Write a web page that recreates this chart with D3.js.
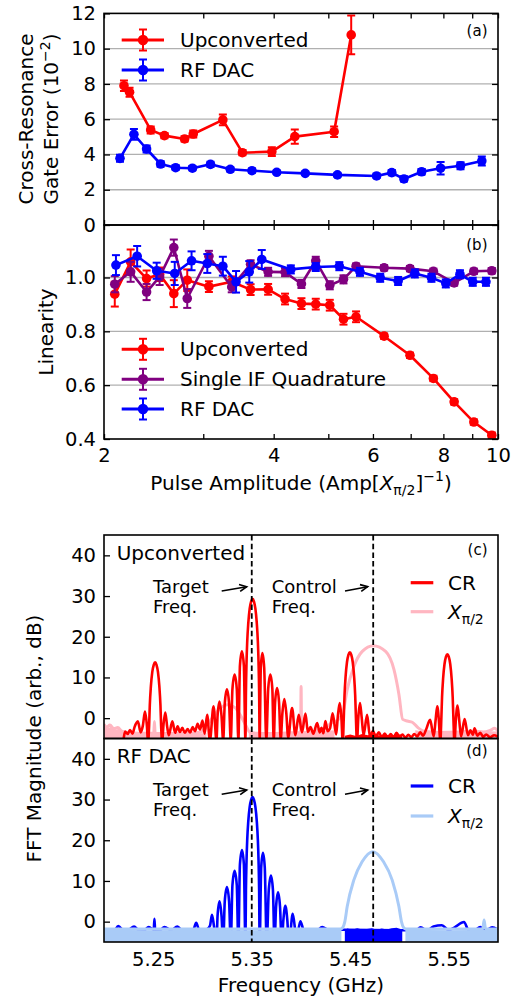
<!DOCTYPE html>
<html><head><meta charset="utf-8">
<script src="https://cdn.jsdelivr.net/npm/d3@7"></script>
<style>body{margin:0;background:#fff}svg{display:block}text{font-family:"DejaVu Sans",sans-serif;fill:#000}</style>
</head><body><svg id="c" width="516" height="1001"></svg>
<script>
// ---------- DATA ----------
// (a) gate error vs pulse amplitude
const errAmpUp = [2.17,2.22,2.42,2.56,2.78,2.88,3.25,3.52,3.97,4.36,5.12,5.49];
const errUp    = [7.9,7.53,5.39,5.07,4.88,5.16,5.96,4.1,4.16,5.01,5.29,10.78];
const errUpE   = [0.3,0.25,0.2,0.15,0.15,0.2,0.3,0.15,0.25,0.4,0.3,1.1];
const errAmpRf = [2.135,2.26,2.38,2.52,2.68,2.87,3.09,3.35,3.66,4.05,4.55,5.19,6.09,6.48,6.81,7.32,7.91,8.58,9.36];
const errRf    = [3.78,5.14,4.31,3.46,3.25,3.22,3.44,3.16,3.08,2.99,2.93,2.84,2.78,2.97,2.61,3.02,3.22,3.36,3.63];
const errRfE   = [0.2,0.3,0.2,0.15,0.12,0.12,0.15,0.12,0.12,0.1,0.1,0.1,0.12,0.15,0.15,0.15,0.35,0.2,0.25];
// (b) linearity
const linAmpUp = [2.09,2.23,2.38,2.51,2.66,2.81,3.07,3.37,3.64,3.91,4.19,4.48,4.75,5.03,5.32,5.60,6.28,6.98,7.68,8.36,9.06,9.75];
const linUp    = [0.938,1.058,0.996,1.012,0.94,0.99,0.966,0.984,0.955,0.956,0.92,0.903,0.901,0.897,0.845,0.854,0.782,0.711,0.625,0.538,0.463,0.414];
const linUpE   = [0.046,0.046,0.03,0.025,0.05,0.04,0.02,0.02,0.02,0.02,0.02,0.02,0.02,0.02,0.02,0.02,0.01,0.01,0.01,0.01,0.01,0.01];
const linIf    = [0.975,1.021,0.946,1.002,1.111,0.922,1.079,0.965,1.049,1.021,1.02,0.976,1.062,0.971,0.993,1.042,1.036,1.033,1.023,0.98,1.023,1.025];
const linIfE   = [0.03,0.037,0.03,0.03,0.03,0.035,0.02,0.02,0.015,0.015,0.015,0.015,0.015,0.015,0.015,0.01,0.01,0.01,0.01,0.01,0.01,0.01];
const linAmpRf = [2.10,2.29,2.48,2.67,2.86,3.05,3.25,3.43,3.62,3.81,4.29,4.75,5.23,5.69,6.18,6.65,7.12,7.62,8.08,8.56,9.02,9.52];
const linRf    = [1.046,1.079,1.025,1.015,1.062,1.052,1.042,0.984,1.021,1.067,1.03,1.039,1.042,1.021,0.999,0.987,1.015,0.999,0.978,1.012,0.984,0.984];
const linRfE   = [0.037,0.038,0.03,0.043,0.035,0.035,0.035,0.04,0.04,0.035,0.015,0.015,0.015,0.015,0.015,0.015,0.015,0.015,0.015,0.015,0.015,0.015];
const ampTicks = [2,3,4,5,6,7,8,9,10];
const ampLabels = [2,4,6,8,10];
const errTicks = [0,2,4,6,8,10,12];
const linTicks = [0.4,0.6,0.8,1.0];
const dbTicks = [0,10,20,30,40];
const freqTicks = [5.25,5.35,5.45,5.55];
const targetFreq = 5.35, controlFreq = 5.4733;

// (c) upconverted spectra  [GHz, dB]
const cCR = [[5.2000,-6],[5.2190,-6],[5.2214,-3.3],[5.2240,-3.9],[5.2264,-2.9],[5.2290,-3.8],[5.2310,-2.2],[5.2344,-0.8],[5.2372,-3.5],
[5.2394,-1.9],[5.2416,1.6],[5.2436,-2.0],
[5.2447,-6],[5.2458,-1.9],[5.2465,3.2],[5.2476,7.8],[5.2490,11.3],[5.2505,13.1],[5.2519,13.7],[5.2533,13.1],[5.2548,11.3],[5.2562,7.8],[5.2573,3.2],[5.2580,-1.9],[5.2591,-6],
[5.2602,-2.2],[5.2622,1.4],[5.2642,-2.2],[5.2658,-4.2],[5.2694,-0.8],[5.2722,-3.6],
[5.2748,-2.0],[5.2770,-3.4],[5.2795,-2.4],[5.2820,-3.6],[5.2848,-2.7],[5.2875,-3.5],[5.2900,-2.2],[5.2925,-3.2],[5.2950,-1.4],[5.2975,-2.8],[5.3000,-0.6],[5.3022,-3.8],[5.3047,0.8],[5.3075,-5.5],[5.3112,2.9],[5.3142,-5.5],
[5.3153,0.6],[5.3173,4.1],[5.3193,0.6],[5.3210,-5.5],[5.3226,3.6],[5.3248,7.1],[5.3270,3.6],[5.3287,-5.5],[5.3304,7.2],[5.3326,10.7],[5.3348,7.2],[5.3364,-5.5],[5.3380,12.9],[5.3400,16.4],[5.3420,12.9],[5.3436,-5.5],
[5.3441,6.3],[5.3447,13.7],[5.3454,18.8],[5.3465,23.4],[5.3479,26.9],[5.3494,28.7],[5.3508,29.3],[5.3522,28.7],[5.3537,26.9],[5.3551,23.4],[5.3562,18.8],[5.3569,13.7],[5.3575,6.3],[5.3580,-5.5],
[5.3592,12.5],[5.3608,16.0],[5.3626,12.5],[5.3648,-5.5],[5.3667,7.2],[5.3689,10.7],[5.3709,7.2],[5.3723,-5.5],[5.3737,3.9],[5.3757,7.4],[5.3777,3.9],[5.3794,-5.2],[5.3811,1.2],[5.3831,4.7],[5.3851,1.2],[5.3870,-4.8],[5.3909,2.5],[5.3943,-4.2],[5.3977,0.8],[5.4010,-3.5],
[5.4045,1.1],[5.4070,-3.4],[5.4096,-2.2],[5.4125,-3.8],[5.4164,-1.2],[5.4190,-3.5],[5.4208,-2.4],[5.4228,-3.7],[5.4248,-0.7],[5.4270,-3.2],[5.4295,-2.5],[5.4321,1.2],[5.4357,-4.0],[5.4373,0.2],[5.4393,3.7],[5.4410,0.2],
[5.4424,-6],[5.4435,0.6],[5.4442,5.7],[5.4453,10.3],[5.4467,13.8],[5.4482,15.6],[5.4496,16.2],[5.4510,15.6],[5.4525,13.8],[5.4539,10.3],[5.4550,5.7],[5.4557,0.6],[5.4568,-6],
[5.4582,0.2],[5.4599,3.7],[5.4616,0.2],[5.4635,-4.2],[5.4671,0.8],[5.4700,-4.6],[5.4730,-3.2],[5.4760,-4.5],[5.4790,-3.5],[5.4820,-4.7],[5.4850,-3.8],[5.4880,-4.8],[5.4910,-3.9],[5.4940,-4.7],[5.4970,-3.6],[5.5000,-4.6],[5.5030,-4.0],[5.5060,-4.8],[5.5090,-4.1],[5.5120,-4.7],[5.5150,-3.9],[5.5180,-4.5],[5.5210,-3.5],[5.5240,-4.3],[5.5270,-2.8],[5.5311,-0.4],[5.5347,-4.5],[5.5366,-0.6],[5.5383,2.9],[5.5400,-0.6],
[5.5414,-6],[5.5425,0.1],[5.5432,5.2],[5.5443,9.8],[5.5457,13.3],[5.5472,15.1],[5.5486,15.7],[5.5500,15.1],[5.5515,13.3],[5.5529,9.8],[5.5540,5.2],[5.5547,0.1],[5.5558,-6],
[5.5572,-0.4],[5.5589,3.1],[5.5606,-0.4],[5.5625,-4.5],[5.5661,-0.2],[5.5695,-4.2],[5.5720,-3.0],[5.5745,-4.1],[5.5762,-2.5],[5.5790,-4.3],[5.5820,-3.6],[5.5850,-4.6],[5.5880,-4.0],[5.5920,-4.7],[5.5960,-4.2],[5.6000,-4.6]];
const cCRFloor = [[5.4445,-4.3],[5.450,-4.0],[5.456,-4.4],[5.462,-3.9],[5.468,-4.2],[5.474,-3.8],[5.480,-4.3],[5.486,-4.0],[5.492,-4.4],[5.498,-3.9],[5.5028,-4.2]];
const cX = [[5.200,-1.5],[5.203,-2.2],[5.206,-1.7],[5.210,-2.6],[5.214,-2.3],[5.218,-3.2],[5.224,-3.5],[5.235,-3.7],[5.2505,-3.7],[5.2512,-0.8],[5.2519,-3.7],[5.270,-3.8],[5.290,-3.7],[5.298,-3.4],[5.302,-2.8],[5.306,-1.3],[5.311,0.4],[5.317,2.2],[5.3255,3.3],[5.333,2.6],[5.339,0.5],[5.344,-1.8],[5.348,-3.4],[5.355,-3.7],[5.370,-3.8],[5.390,-3.6],[5.3996,-3.6],[5.4001,7.8],[5.4006,-3.6],[5.415,-3.2],[5.4241,-2.5],[5.4309,-1.2],[5.4377,-0.4],[5.4428,1.6],[5.4469,7],[5.4537,12.7],[5.4622,16.4],[5.4734,17.8],[5.4859,16.4],[5.4944,11.9],[5.4995,5.7],[5.5032,-0.3],[5.508,-0.7],[5.513,-1.0],[5.519,-2.4],[5.526,-3.3],[5.540,-3.5],[5.560,-3.4],[5.575,-3.2],[5.585,-3.4],[5.592,-3.0],[5.5965,-2.5],[5.600,-3.2]];
const cXFloor = [[5.200,-1.8],[5.204,-2.5],[5.208,-2.0],[5.212,-2.8],[5.216,-2.6],[5.222,-3.4],[5.240,-3.8],[5.260,-3.9],[5.280,-3.8],[5.300,-3.7],[5.304,-3.6],[NaN,NaN],[5.347,-3.6],[5.360,-3.9],[5.380,-3.8],[5.400,-3.7],[5.420,-3.3],[5.434,-3.0],[NaN,NaN],[5.516,-3.0],[5.530,-3.5],[5.550,-3.6],[5.570,-3.4],[5.590,-3.2],[5.600,-3.3]];

// (d) RF DAC spectra  [GHz, dB]
const dCR = [[5.200,-2.2],[5.205,-1.9],[5.210,-2.3],[5.2145,-1.1],[5.220,-2.2],[5.225,-2.0],[5.2305,-1.2],[5.235,-2.1],[5.240,-2.3],[5.2455,-1.3],[5.2505,-2.0],[5.2512,0.7],[5.2519,-2.0],[5.256,-2.3],[5.2615,-1.3],[5.268,-2.1],[5.2745,-1.2],[5.280,-2.3],[5.286,-2.0],[5.2905,-2.0],[5.2936,-0.3],[5.2965,-2.0],[5.300,-2.2],[5.3040,-2.0],
[5.3076,-1.0],[5.3096,1.7],[5.3116,-1.0],[5.3142,-5.5],[5.3153,1.5],[5.3173,5.0],[5.3193,1.5],[5.3210,-5.5],[5.3226,5.0],[5.3248,8.5],[5.3270,5.0],[5.3287,-5.5],[5.3304,9.0],[5.3326,12.5],[5.3348,9.0],[5.3364,-5.5],[5.3380,14.1],[5.3401,17.6],[5.3420,14.1],[5.3436,-5.5],
[5.3441,7.6],[5.3447,15.0],[5.3454,20.1],[5.3465,24.7],[5.3479,28.2],[5.3494,30.0],[5.3508,30.6],[5.3522,30.0],[5.3537,28.2],[5.3551,24.7],[5.3562,20.1],[5.3569,15.0],[5.3575,7.6],[5.3580,-5.5],
[5.3596,13.4],[5.3614,16.9],[5.3632,13.4],[5.3652,-5.5],[5.3673,7.8],[5.3695,11.3],[5.3715,7.8],[5.3731,-5.5],[5.3747,3.7],[5.3767,7.2],[5.3787,3.7],[5.3804,-5.5],[5.3821,0.4],[5.3841,3.9],[5.3861,0.4],[5.3878,-5.5],[5.3916,1.9],[5.3955,-4],[5.3994,0.1],[5.4030,-2.2],
[5.410,-2.0],[5.416,-2.3],[5.4215,-1.3],[5.428,-2.1],[5.434,-2.2],[5.440,-2.0],[5.505,-2.1],[5.510,-2.0],[5.516,-2.3],[5.5215,-1.4],[5.528,-2.2],[5.5345,-1.2],[5.543,-0.9],[5.550,-2.1],[5.556,-1.4],[5.5655,-0.1],[5.570,-2.0],[5.576,-2.2],[5.582,-1.3],[5.588,-2.1],[5.594,-1.4],[5.600,-2.0]];
const dCRFloor = [[5.4445,-2.1],[5.447,-1.7],[5.452,-2.0],[5.457,-1.6],[5.462,-1.9],[5.467,-1.8],[5.472,-1.6],[5.477,-2.0],[5.482,-1.7],[5.487,-1.9],[5.492,-1.6],[5.497,-1.5],[5.5028,-1.9]];
const dX = [[5.200,-1.8],[5.440,-1.8],[5.4425,-1.4],[5.4445,0],[5.4469,3.7],[5.4536,10.2],[5.462,14.7],[5.473,17.2],[5.4838,14.7],[5.4926,10.2],[5.4994,3.7],[5.5020,0],[5.5040,-1.4],[5.5065,-1.8],[5.5845,-1.8],[5.5859,0.4],[5.5873,-1.8],[5.600,-1.8]];
const dXFloor = [[5.200,-2.0],[5.25,-2.1],[5.30,-2.0],[5.35,-2.1],[5.40,-2.0],[5.441,-2.0],[NaN,NaN],[5.506,-2.0],[5.55,-2.1],[5.600,-2.0]];

// ---------- LAYOUT ----------
const svg = d3.select("#c");
const L=104, R=498;
const A={t:13.4,b:225}, B={t:225,b:439}, C={t:535,b:738.5}, D={t:738.5,b:942};
const RED="#ff0000", BLUE="#0000ff", PURPLE="#800080", PINK="#ffb6c1", LBLUE="#a9cbf7", GRID="#b0b0b0";
const TFS=19.5, FS=20;

const xAmp = d3.scaleLog().domain([2,10]).range([L,R]);
const yA = d3.scaleLinear().domain([0,12]).range([A.b,A.t]);
const yB = d3.scaleLinear().domain([0.4,1.195]).range([B.b,B.t]);
const xF = d3.scaleLinear().domain([5.2,5.6]).range([L,R]);
const yC = d3.scaleLinear().domain([-5,45]).range([C.b,C.t]);
const yD = d3.scaleLinear().domain([-5,45]).range([D.b,D.t]);

const defs = svg.append("defs");
function mkClip(id,p){defs.append("clipPath").attr("id",id).append("rect").attr("x",L).attr("y",p.t).attr("width",R-L).attr("height",p.b-p.t);}
mkClip("ca",A); mkClip("cb",B); mkClip("cc",C); mkClip("cd",D);

// grids
function grid(vals, ys){
  svg.append("g").selectAll("line").data(vals).join("line")
    .attr("x1",L).attr("x2",R).attr("y1",d=>ys(d)).attr("y2",d=>ys(d))
    .attr("stroke",GRID).attr("stroke-width",1.3);
}
grid([2,4,6,8,10], yA);
grid([0.6,0.8,1.0], yB);

function styleAxis(g){
  g.select(".domain").remove();
  g.selectAll(".tick line").attr("stroke","#000").attr("stroke-width",1.3);
  g.selectAll(".tick text").attr("font-size",TFS).attr("font-family","DejaVu Sans");
  return g;
}
// y axes
styleAxis(svg.append("g").attr("transform",`translate(${L},0)`).call(d3.axisLeft(yA).tickValues(errTicks).tickFormat(d3.format("d")).tickSize(-6).tickPadding(8)));
styleAxis(svg.append("g").attr("transform",`translate(${R},0)`).call(d3.axisRight(yA).tickValues(errTicks).tickFormat("").tickSize(-6)));
styleAxis(svg.append("g").attr("transform",`translate(${L},0)`).call(d3.axisLeft(yB).tickValues(linTicks).tickFormat(d3.format(".1f")).tickSize(-6).tickPadding(8)));
styleAxis(svg.append("g").attr("transform",`translate(${R},0)`).call(d3.axisRight(yB).tickValues(linTicks).tickFormat("").tickSize(-6)));
// x axes (a),(b)
styleAxis(svg.append("g").attr("transform",`translate(0,${A.t})`).call(d3.axisTop(xAmp).tickValues(ampTicks).tickFormat("").tickSize(-5)));
styleAxis(svg.append("g").attr("transform",`translate(0,${A.b})`).call(d3.axisBottom(xAmp).tickValues(ampTicks).tickFormat("").tickSize(-5)));
styleAxis(svg.append("g").attr("transform",`translate(0,${B.t})`).call(d3.axisTop(xAmp).tickValues(ampTicks).tickFormat("").tickSize(-5)));
styleAxis(svg.append("g").attr("transform",`translate(0,${B.b})`).call(d3.axisBottom(xAmp).tickValues(ampTicks).tickFormat(d=>ampLabels.includes(d)?d:"").tickSize(-5).tickPadding(9)));
// y axes (c),(d)
styleAxis(svg.append("g").attr("transform",`translate(${L},0)`).call(d3.axisLeft(yC).tickValues(dbTicks).tickFormat(d3.format("d")).tickSize(-6).tickPadding(8)));
styleAxis(svg.append("g").attr("transform",`translate(${L},0)`).call(d3.axisLeft(yD).tickValues(dbTicks).tickFormat(d3.format("d")).tickSize(-6).tickPadding(8)));
styleAxis(svg.append("g").attr("transform",`translate(0,${D.b})`).call(d3.axisBottom(xF).tickValues(freqTicks).tickFormat(d3.format(".2f")).tickSize(0).tickPadding(10)));

// error bar series
function errSeries(clipId, xs, ys, es, xsc, ysc, color){
  const g = svg.append("g").attr("clip-path",`url(#${clipId})`);
  const pts = xs.map((x,i)=>({x:xsc(x), y:ysc(ys[i]), lo:ysc(ys[i]-es[i]), hi:ysc(ys[i]+es[i])}));
  g.append("path").attr("d", d3.line().x(d=>d.x).y(d=>d.y)(pts)).attr("fill","none").attr("stroke",color).attr("stroke-width",2.6).attr("stroke-linejoin","round");
  g.selectAll("line.eb").data(pts).join("line").attr("x1",d=>d.x).attr("x2",d=>d.x).attr("y1",d=>d.lo).attr("y2",d=>d.hi).attr("stroke",color).attr("stroke-width",2);
  g.selectAll("line.c1").data(pts).join("line").attr("x1",d=>d.x-4).attr("x2",d=>d.x+4).attr("y1",d=>d.lo).attr("y2",d=>d.lo).attr("stroke",color).attr("stroke-width",2);
  g.selectAll("line.c2").data(pts).join("line").attr("x1",d=>d.x-4).attr("x2",d=>d.x+4).attr("y1",d=>d.hi).attr("y2",d=>d.hi).attr("stroke",color).attr("stroke-width",2);
  g.selectAll("circle").data(pts).join("circle").attr("cx",d=>d.x).attr("cy",d=>d.y).attr("r",4.8).attr("fill",color);
}
errSeries("ca", errAmpUp, errUp, errUpE, xAmp, yA, RED);
errSeries("ca", errAmpRf, errRf, errRfE, xAmp, yA, BLUE);
errSeries("cb", linAmpUp, linUp, linUpE, xAmp, yB, RED);
errSeries("cb", linAmpUp, linIf, linIfE, xAmp, yB, PURPLE);
errSeries("cb", linAmpRf, linRf, linRfE, xAmp, yB, BLUE);

// legend with errorbar glyph
function ebLegend(entries){
  entries.forEach(e=>{
    const g = svg.append("g");
    g.append("line").attr("x1",121.7).attr("x2",164).attr("y1",e.y).attr("y2",e.y).attr("stroke",e.c).attr("stroke-width",3);
    g.append("line").attr("x1",143).attr("x2",143).attr("y1",e.y-10.5).attr("y2",e.y+10.5).attr("stroke",e.c).attr("stroke-width",2);
    [-10.5,10.5].forEach(o=>g.append("line").attr("x1",139).attr("x2",147).attr("y1",e.y+o).attr("y2",e.y+o).attr("stroke",e.c).attr("stroke-width",2));
    g.append("circle").attr("cx",143).attr("cy",e.y).attr("r",5.2).attr("fill",e.c);
    g.append("text").attr("x",180).attr("y",e.y+7).attr("font-size",FS).text(e.t);
  });
}
ebLegend([{y:40,c:RED,t:"Upconverted"},{y:70,c:BLUE,t:"RF DAC"}]);
ebLegend([{y:349.3,c:RED,t:"Upconverted"},{y:379.3,c:PURPLE,t:"Single IF Quadrature"},{y:409,c:BLUE,t:"RF DAC"}]);

// spectra
function drawLine(clipId, data, ysc, color, w){
  svg.append("path").attr("clip-path",`url(#${clipId})`)
    .attr("d", d3.line().defined(d=>!isNaN(d[0])).curve(d3.curveMonotoneX).x(d=>xF(d[0])).y(d=>ysc(d[1]))(data))
    .attr("fill","none").attr("stroke",color).attr("stroke-width",w).attr("stroke-linejoin","round");
}
function drawBand(clipId, data, ysc, color){
  svg.append("path").attr("clip-path",`url(#${clipId})`)
    .attr("d", d3.area().defined(d=>!isNaN(d[0])).x(d=>xF(d[0])).y0(ysc(-6)).y1(d=>ysc(d[1]))(data))
    .attr("fill",color);
}
// (c)
drawBand("cc", cXFloor, yC, PINK);
drawLine("cc", cX, yC, PINK, 3);
drawBand("cc", cCRFloor, yC, RED);
drawLine("cc", cCR, yC, RED, 2.6);
// (d)
drawLine("cd", dCR, yD, BLUE, 2.6);
drawBand("cd", dCRFloor, yD, BLUE);
drawBand("cd", dXFloor, yD, LBLUE);
drawLine("cd", dX, yD, LBLUE, 3);

// dashed frequency markers
[C,D].forEach(p=>{
  [targetFreq, controlFreq].forEach(f=>{
    svg.append("line").attr("x1",xF(f)).attr("x2",xF(f)).attr("y1",p.t).attr("y2",p.b)
      .attr("stroke","#000").attr("stroke-width",1.8).attr("stroke-dasharray","5.5,3.2");
  });
});

// annotations
function arrow(x1,y1,x2,y2){
  const a = Math.atan2(y2-y1,x2-x1), hl=8;
  svg.append("line").attr("x1",x1).attr("y1",y1).attr("x2",x2).attr("y2",y2).attr("stroke","#000").attr("stroke-width",1.6);
  svg.append("path").attr("d",`M${x2-hl*Math.cos(a-0.45)},${y2-hl*Math.sin(a-0.45)}L${x2},${y2}L${x2-hl*Math.cos(a+0.45)},${y2-hl*Math.sin(a+0.45)}`)
    .attr("fill","none").attr("stroke","#000").attr("stroke-width",1.6);
}
function panelText(p, off, title){
  svg.append("text").attr("x",116.7).attr("y",p.t+off.title).attr("font-size",FS).text(title);
  svg.append("text").attr("x",153).attr("y",p.t+off.l1).attr("font-size",18).text("Target");
  svg.append("text").attr("x",153).attr("y",p.t+off.l2).attr("font-size",18).text("Freq.");
  svg.append("text").attr("x",271.7).attr("y",p.t+off.l1).attr("font-size",18).text("Control");
  svg.append("text").attr("x",271.7).attr("y",p.t+off.l2).attr("font-size",18).text("Freq.");
  arrow(221.7,p.t+off.l1-1.7,246.7,p.t+off.l1-6);
  arrow(345,p.t+off.l1-1.7,367.7,p.t+off.l1-6);
}
panelText(C,{title:25,l1:57.7,l2:78.3},"Upconverted");
panelText(D,{title:24.5,l1:57.5,l2:77.5},"RF DAC");

function specLegend(y1,y2,c1,c2){
  svg.append("line").attr("x1",410.7).attr("x2",433.3).attr("y1",y1).attr("y2",y1).attr("stroke",c1).attr("stroke-width",3.2);
  svg.append("text").attr("x",448).attr("y",y1+7.3).attr("font-size",FS).text("CR");
  svg.append("line").attr("x1",410.7).attr("x2",433.3).attr("y1",y2).attr("y2",y2).attr("stroke",c2).attr("stroke-width",3.2);
  const t = svg.append("text").attr("x",448).attr("y",y2+6.8).attr("font-size",FS);
  t.append("tspan").attr("font-style","italic").text("X");
  t.append("tspan").attr("font-size",14).attr("dy",5).text("π/2");
}
specLegend(582.7,611.7,RED,PINK);
specLegend(786,816,BLUE,LBLUE);

// panel letters
[["(a)",A.t+23],["(b)",B.t+25],["(c)",C.t+20],["(d)",D.t+17]].forEach(([s,y])=>{
  svg.append("text").attr("x",487.5).attr("y",y).attr("text-anchor","end").attr("font-family","Liberation Serif, serif").attr("font-size",15).text(s);
});

// axis titles
const ya = svg.append("text").attr("transform","rotate(-90)").attr("text-anchor","middle").attr("font-size",FS);
ya.append("tspan").attr("x",-119).attr("y",33).text("Cross-Resonance");
const ya2 = svg.append("text").attr("transform","rotate(-90)").attr("text-anchor","middle").attr("font-size",FS).attr("x",-119).attr("y",57.5);
ya2.append("tspan").text("Gate Error (10");
ya2.append("tspan").attr("font-size",14).attr("dy",-8).text("−2");
ya2.append("tspan").attr("dy",8).text(")");
svg.append("text").attr("transform","rotate(-90)").attr("text-anchor","middle").attr("font-size",FS).attr("x",-332).attr("y",53.3).text("Linearity");
svg.append("text").attr("transform","rotate(-90)").attr("text-anchor","middle").attr("font-size",FS).attr("x",-738.5).attr("y",40.5).text("FFT Magnitude (arb., dB)");
const xl = svg.append("text").attr("x",301).attr("y",490).attr("text-anchor","middle").attr("font-size",FS);
xl.append("tspan").text("Pulse Amplitude (Amp[");
xl.append("tspan").attr("font-style","italic").text("X");
xl.append("tspan").attr("font-size",14).attr("dy",5).text("π/2");
xl.append("tspan").attr("dy",-5).text("]");
xl.append("tspan").attr("font-size",14).attr("dy",-9).text("−1");
xl.append("tspan").attr("dy",9).text(")");
svg.append("text").attr("x",301).attr("y",992.3).attr("text-anchor","middle").attr("font-size",FS).text("Frequency (GHz)");

// frames
[A,B,C,D].forEach(p=>svg.append("rect").attr("x",L).attr("y",p.t).attr("width",R-L).attr("height",p.b-p.t).attr("fill","none").attr("stroke","#000").attr("stroke-width",1.6));
</script></body></html>
